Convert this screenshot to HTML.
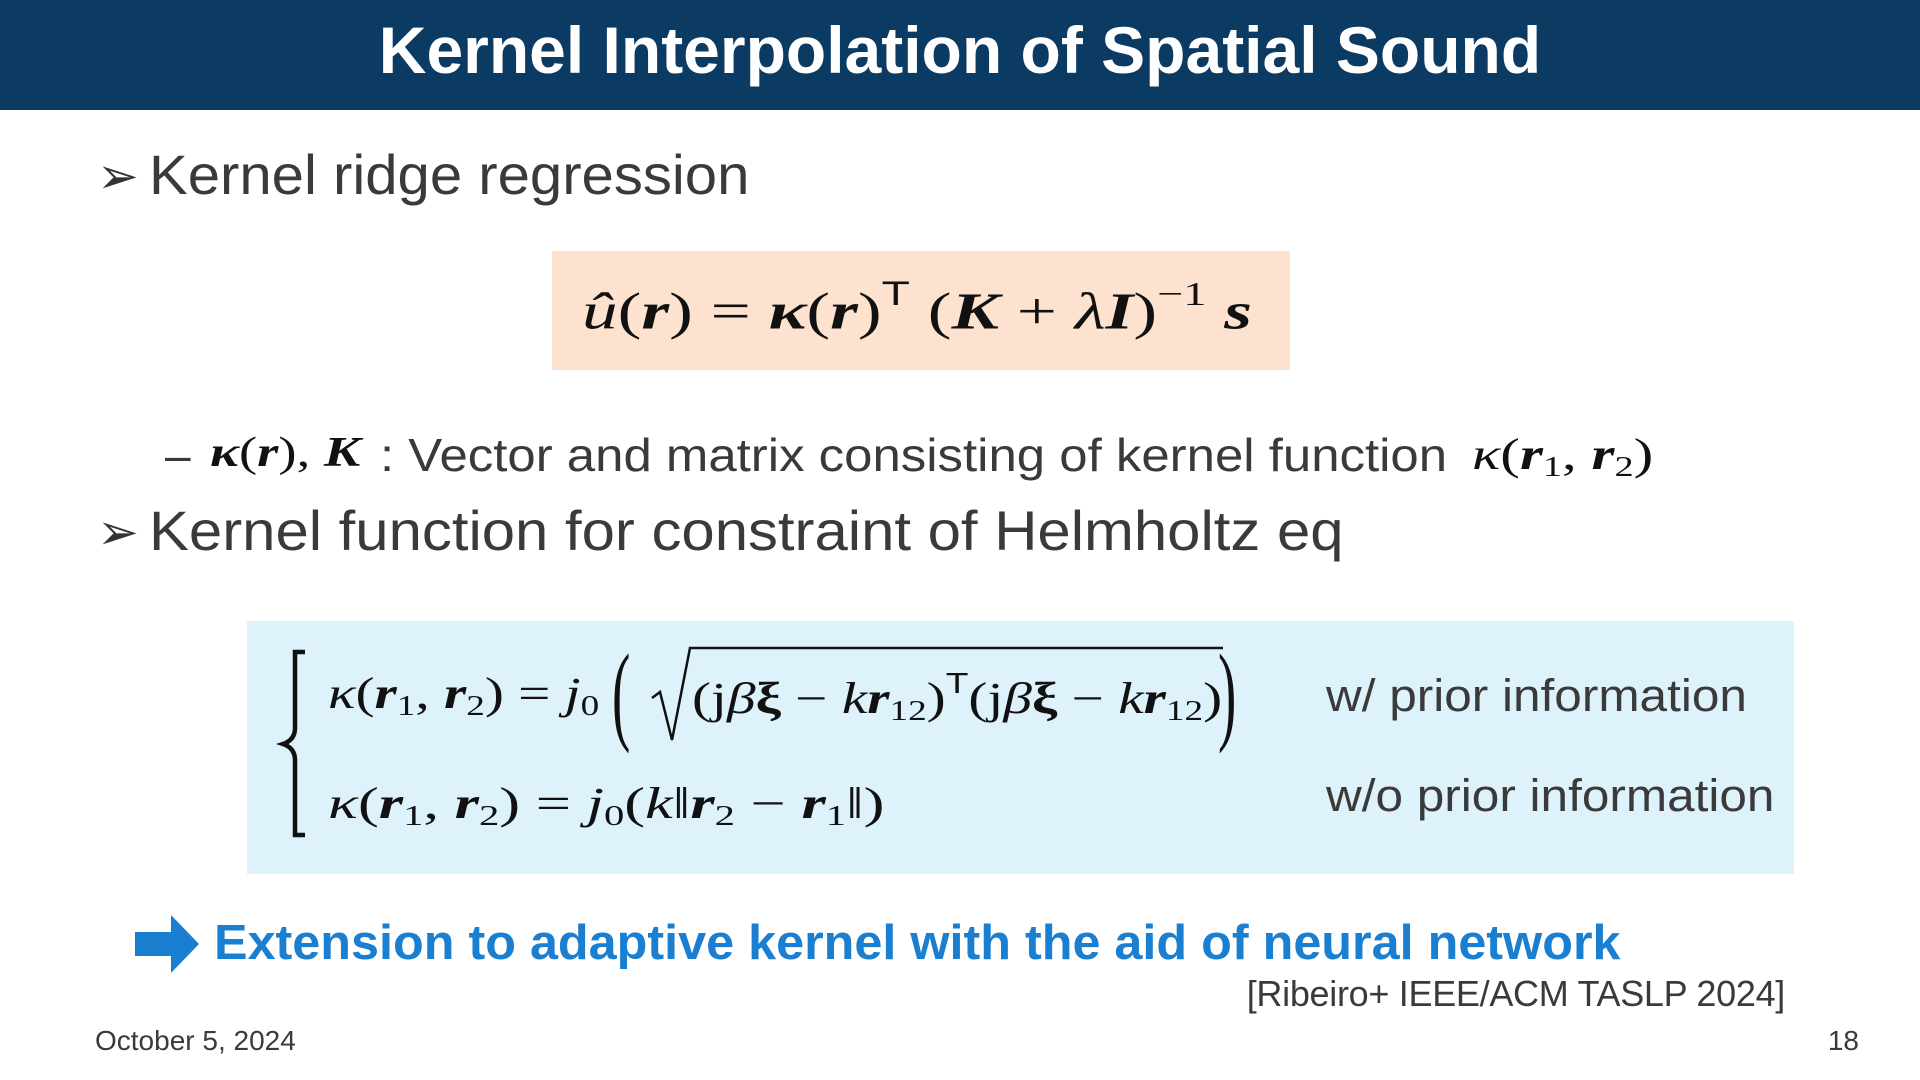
<!DOCTYPE html>
<html><head><meta charset="utf-8"><style>
body{margin:0;width:1920px;height:1080px;background:#fff;position:relative;overflow:hidden;font-family:"Liberation Sans","DejaVu Sans",sans-serif;color:#3a3a3a}
.a{position:absolute;white-space:nowrap;transform-origin:left center}
.m{font-family:"Liberation Serif","DejaVu Serif",serif;color:#111}
.i{font-style:italic}
.b{font-weight:bold}
.bi{font-weight:bold;font-style:italic}
sub{font-size:65%;vertical-align:-0.25em}
sup{font-size:65%;vertical-align:0.7em}
</style></head><body>
<div class="a" style="left:0;top:0;width:1920px;height:110px;background:#0b3a63"></div>
<div class="a b" style="left:0;width:1920px;top:12px;text-align:center;font-size:66px;color:#fff">Kernel Interpolation of Spatial Sound</div>

<div class="a" style="left:97px;top:147px;font-size:50px;color:#333">➢</div>
<div class="a" style="left:149px;top:142px;font-size:56px;transform:scaleX(1.037)">Kernel ridge regression</div>

<div class="a" style="left:552px;top:251px;width:738px;height:119px;background:#fde3cf"></div>
<div class="a m" style="left:582px;top:275px;font-size:52px;transform:scaleX(1.37)"><span class="i">û</span>(<span class="bi">r</span>) = <span class="bi">κ</span>(<span class="bi">r</span>)<sup style="font-family:Liberation Sans">T</sup> (<span class="bi">K</span> + <span class="i">λ</span><span class="bi">I</span>)<sup>−1</sup> <span class="bi">s</span></div>

<div class="a" style="left:165px;top:428px;font-size:46px">–</div>
<div class="a m" style="left:210px;top:429px;font-size:42px;transform:scaleX(1.3)"><span class="bi">κ</span>(<span class="bi">r</span>), <span class="bi">K</span></div>
<div class="a" style="left:380px;top:428px;font-size:46px;transform:scaleX(1.107)">: Vector and matrix consisting of kernel function</div>
<div class="a m" style="left:1472px;top:429px;font-size:44px;transform:scaleX(1.34)"><span class="i">κ</span>(<span class="bi">r</span><sub>1</sub>, <span class="bi">r</span><sub>2</sub>)</div>

<div class="a" style="left:97px;top:503px;font-size:50px;color:#333">➢</div>
<div class="a" style="left:149px;top:498px;font-size:56px;transform:scaleX(1.069)">Kernel function for constraint of Helmholtz eq</div>

<div class="a" style="left:247px;top:621px;width:1547px;height:253px;background:#ddf2fb"></div>
<svg class="a" style="left:255px;top:640px" width="60" height="200"><path d="M50 12 H40 V88 Q40 100 28 104 Q40 108 40 120 V195 H50" fill="none" stroke="#111" stroke-width="4.5"/></svg>
<div class="a m" style="left:328px;top:668px;font-size:44px;transform:scaleX(1.3)"><span class="i">κ</span>(<span class="bi">r</span><sub>1</sub>, <span class="bi">r</span><sub>2</sub>) = <span class="i">j</span><sub>0</sub></div>
<div class="a m" style="left:612px;top:630px;font-size:110px;transform:scaleX(0.5)">(</div>
<svg class="a" style="left:648px;top:640px" width="580" height="110"><path d="M4 58 L12 52 L24 100 L42 8 H575" fill="none" stroke="#111" stroke-width="2.5"/></svg>
<div class="a m" style="left:692px;top:668px;font-size:44px;transform:scaleX(1.3)">(j<span class="i">β</span><span class="b">ξ</span> − <span class="i">k</span><span class="bi">r</span><sub>12</sub>)<sup style="font-family:Liberation Sans">T</sup>(j<span class="i">β</span><span class="b">ξ</span> − <span class="i">k</span><span class="bi">r</span><sub>12</sub>)</div>
<div class="a m" style="left:1218px;top:630px;font-size:110px;transform:scaleX(0.5)">)</div>
<div class="a" style="left:1326px;top:670px;font-size:45px;transform:scaleX(1.1)">w/ prior information</div>

<div class="a m" style="left:328px;top:778px;font-size:44px;transform:scaleX(1.42)"><span class="i">κ</span>(<span class="bi">r</span><sub>1</sub>, <span class="bi">r</span><sub>2</sub>) = <span class="i">j</span><sub>0</sub>(<span class="i">k</span>‖<span class="bi">r</span><sub>2</sub> − <span class="bi">r</span><sub>1</sub>‖)</div>
<div class="a" style="left:1326px;top:770px;font-size:45px;transform:scaleX(1.1)">w/o prior information</div>

<svg class="a" style="left:135px;top:915px" width="65" height="58"><path d="M0 17 H36 V0 L64 29 L36 58 V41 H0 Z" fill="#1a7fd0"/></svg>
<div class="a b" style="left:214px;top:915px;font-size:49px;color:#1a7fd0;transform:scaleX(1.027)">Extension to adaptive kernel with the aid of neural network</div>
<div class="a" style="right:135px;top:973px;font-size:36px;letter-spacing:-0.3px">[Ribeiro+ IEEE/ACM TASLP 2024]</div>

<div class="a" style="left:95px;top:1025px;font-size:28px">October 5, 2024</div>
<div class="a" style="right:61px;top:1025px;font-size:28px">18</div>
</body></html>
